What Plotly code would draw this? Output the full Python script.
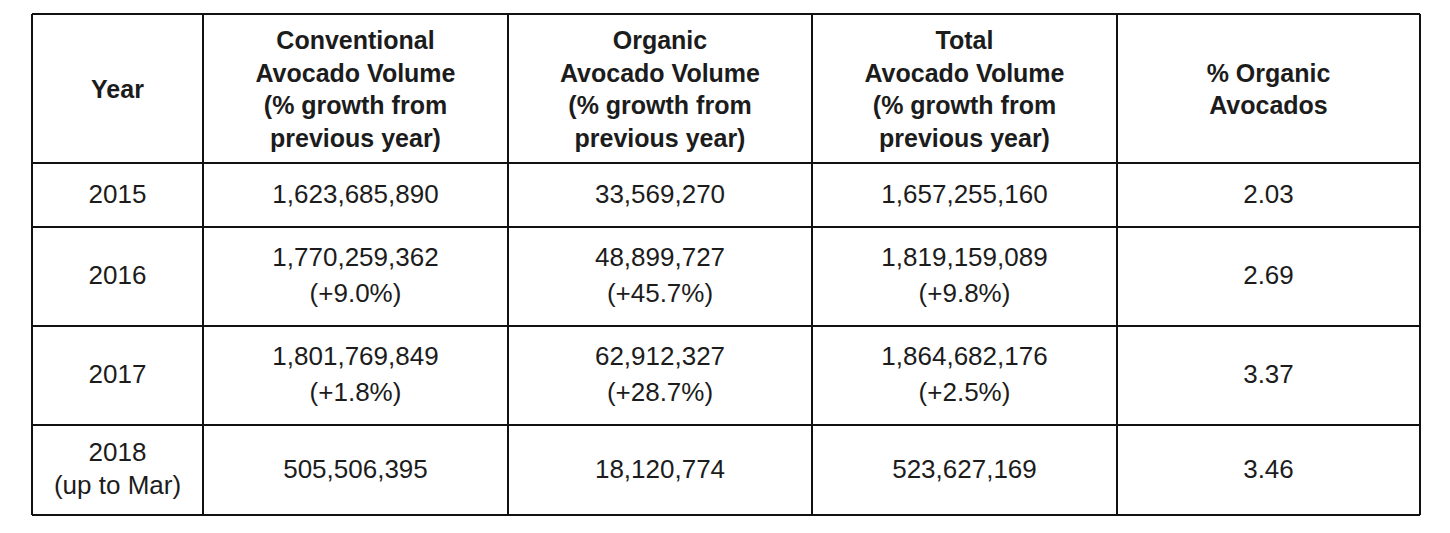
import plotly.graph_objects as go

# table content
headers = [
    "Year",
    "Conventional<br>Avocado Volume<br>(% growth from<br>previous year)",
    "Organic<br>Avocado Volume<br>(% growth from<br>previous year)",
    "Total<br>Avocado Volume<br>(% growth from<br>previous year)",
    "% Organic<br>Avocados",
]
years = ["2015", "2016", "2017", "2018<br>(up to Mar)"]
conventional = [1623685890, 1770259362, 1801769849, 505506395]
organic = [33569270, 48899727, 62912327, 18120774]
total = [1657255160, 1819159089, 1864682176, 523627169]
conventional_growth = [None, 9.0, 1.8, None]
organic_growth = [None, 45.7, 28.7, None]
total_growth = [None, 9.8, 2.5, None]
pct_organic = [2.03, 2.69, 3.37, 3.46]

# layout of the grid (pixel units of the page)
col_edges = [32, 203, 508, 812, 1117, 1420]
row_edges = [14, 163, 227, 326, 425, 515]
PAGE_OFFSET = 8  # default body margin of the html page
FONT = "Liberation Sans, Arial, sans-serif"
HEAD_SIZE = 25
BODY_SIZE = 26
INK = "#1c1c1c"


def mid(edges, i):
    return (edges[i] + edges[i + 1]) / 2


def main():
    # header text
    hx = [mid(col_edges, i) for i in range(len(headers))]
    hy = [mid(row_edges, 0) + 3] * len(headers)

    # body text: main values and growth lines
    bx, by, bt = [], [], []
    gx, gy, gt = [], [], []
    volume_cols = [(conventional, conventional_growth), (organic, organic_growth), (total, total_growth)]
    for r in range(len(years)):
        cy = mid(row_edges, r + 1) + 1
        bx.append(mid(col_edges, 0))
        by.append(cy)
        bt.append(years[r])
        for c, (vals, growth) in enumerate(volume_cols):
            cx = mid(col_edges, c + 1)
            if growth[r] is None:
                bx.append(cx)
                by.append(cy)
                bt.append(f"{vals[r]:,}")
            else:
                bx.append(cx)
                by.append(cy - 18)
                bt.append(f"{vals[r]:,}")
                gx.append(cx)
                gy.append(cy + 18)
                gt.append(f"(+{growth[r]:.1f}%)")
        bx.append(mid(col_edges, 4))
        by.append(cy)
        bt.append(f"{pct_organic[r]:.2f}")

    fig = go.Figure()
    fig.add_trace(go.Scatter(x=hx, y=hy, text=headers, mode="text", hoverinfo="skip",
                             textfont=dict(family=FONT, size=HEAD_SIZE, color=INK, weight="bold")))
    fig.add_trace(go.Scatter(x=bx + gx, y=by + gy, text=bt + gt, mode="text", hoverinfo="skip",
                             textfont=dict(family=FONT, size=BODY_SIZE, color=INK)))

    # grid lines
    line = dict(color="#111111", width=2)
    shapes = []
    for x in col_edges:
        shapes.append(dict(type="line", x0=x, x1=x, y0=row_edges[0], y1=row_edges[-1], line=line))
    for y in row_edges:
        shapes.append(dict(type="line", x0=col_edges[0], x1=col_edges[-1], y0=y, y1=y, line=line))

    fig.update_layout(
        width=1450, height=533,
        margin=dict(l=0, r=0, t=0, b=0),
        paper_bgcolor="white", plot_bgcolor="white",
        showlegend=False, shapes=shapes,
        xaxis=dict(range=[PAGE_OFFSET, 1450 + PAGE_OFFSET], visible=False, fixedrange=True),
        yaxis=dict(range=[533 + PAGE_OFFSET, PAGE_OFFSET], visible=False, fixedrange=True),
    )
    fig.write_html("out.html", config={"displayModeBar": False})


if __name__ == "__main__":
    main()
